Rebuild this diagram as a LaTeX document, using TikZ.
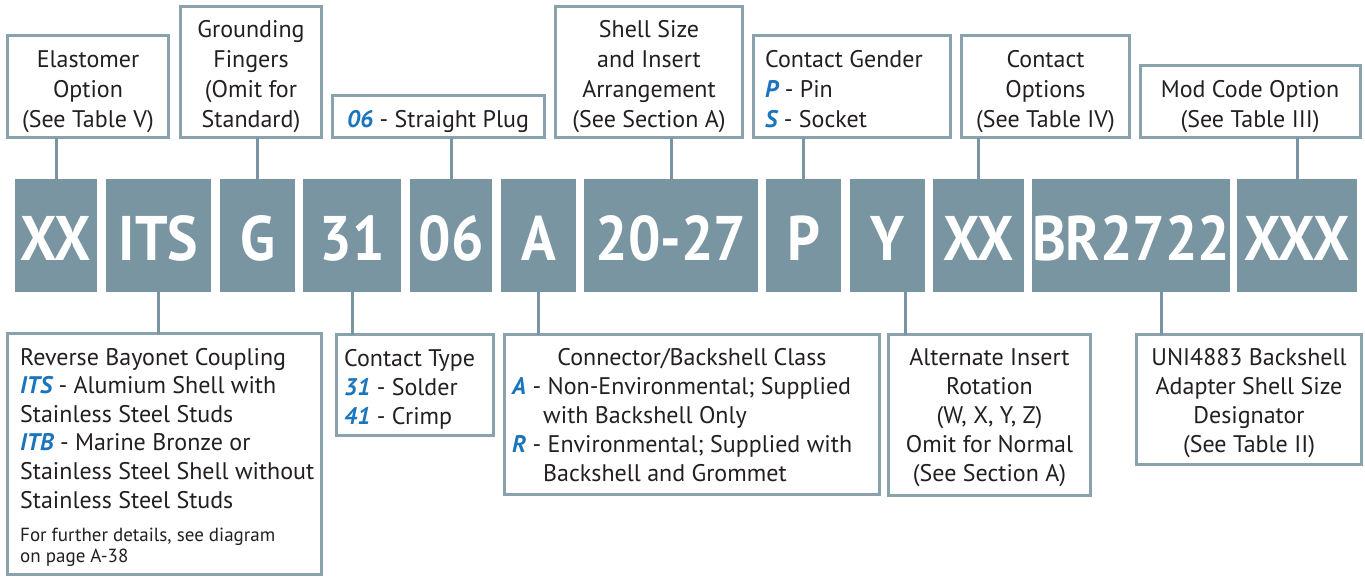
\documentclass[tikz,border=0pt]{standalone}
\usepackage{fontspec}
\setmainfont{PT Sans}
\newfontfamily\barfont{PT Sans}[FakeStretch=0.91]
\definecolor{barc}{HTML}{7A95A2}
\definecolor{edgec}{HTML}{8AA2AE}
\definecolor{bluec}{HTML}{1B75BC}
\definecolor{txtc}{HTML}{231F20}
\newcommand{\bl}[1]{\textcolor{bluec}{\bfseries\itshape #1}}
\tikzset{
  tbox/.style={draw=edgec, line width=3pt, fill=white, inner sep=0pt, outer sep=0pt, anchor=north west},
  bar/.style={fill=barc, inner sep=0pt, outer sep=0pt, anchor=north west, minimum height=113pt,
    text=white, font=\barfont\bfseries\fontsize{63}{63}\selectfont, text height=49pt, text depth=0pt},
  conn/.style={draw=barc, line width=3pt},
  txtT/.style={inner sep=0pt, text=txtc, font=\fontsize{24}{30}\selectfont},
  txtB/.style={inner sep=0pt, text=txtc, font=\fontsize{24}{29}\selectfont},
}
\begin{document}
\begin{tikzpicture}[x=1pt,y=-1pt]
\useasboundingbox (0,0) rectangle (1365,576);
\clip (0,0) rectangle (1365,576);
% bars
\node[bar, minimum width=82pt]  (bXX)  at (15,179)   {XX};
\node[bar, minimum width=105pt] (bITS) at (106,179)  {ITS};
\node[bar, minimum width=75pt]  (bG)   at (220,179)  {G};
\node[bar, minimum width=98pt]  (b31)  at (303,179)  {31};
\node[bar, minimum width=82pt]  (b06)  at (410,179)  {06};
\node[bar, minimum width=75pt]  (bA)   at (501,179)  {A};
\node[bar, minimum width=174pt] (b2027) at (584,179) {20-27};
\node[bar, minimum width=75pt]  (bP)   at (766,179)  {P};
\node[bar, minimum width=75pt]  (bY)   at (850,179)  {Y};
\node[bar, minimum width=91pt]  (bXX2) at (933,179)  {XX};
\node[bar, minimum width=196pt] (bBR)  at (1032,179) {BR2722};
\node[bar, minimum width=120pt] (bXXX) at (1237,179) {XXX};
% top boxes
\node[tbox, minimum width=161pt, minimum height=102pt] (elast) at (7.5,35.5) {};
\node[tbox, minimum width=141pt, minimum height=131pt] (grnd)  at (180.5,6.5) {};
\node[tbox, minimum width=212pt, minimum height=42pt]  (plug)  at (332.5,95.5) {};
\node[tbox, minimum width=187pt, minimum height=131pt] (shell) at (555.5,6.5) {};
\node[tbox, minimum width=197pt, minimum height=102pt] (gend)  at (753.5,35.5) {};
\node[tbox, minimum width=168pt, minimum height=102pt] (copt)  at (961.5,35.5) {};
\node[tbox, minimum width=220pt, minimum height=72pt]  (mod)   at (1140.5,65.5) {};
% bottom boxes
\node[tbox, minimum width=314pt, minimum height=241pt] (rev)   at (7.5,333.5) {};
\node[tbox, minimum width=157pt, minimum height=101pt] (ctype) at (336.5,334.5) {};
\node[tbox, minimum width=375pt, minimum height=160pt] (cls)   at (504.5,334.5) {};
\node[tbox, minimum width=202pt, minimum height=161pt] (alt)   at (888.5,334.5) {};
\node[tbox, minimum width=225pt, minimum height=130pt] (uni)   at (1136.5,334.5) {};
% connectors top
\draw[conn] (elast.south -| bXX.north) -- (bXX.north);
\draw[conn] (grnd.south -| bG.north) -- (bG.north);
\draw[conn] (plug.south -| b06.north) -- (b06.north);
\draw[conn] (shell.south -| b2027.north) -- (b2027.north);
\draw[conn] (gend.south -| bP.north) -- (bP.north);
\draw[conn] (copt.south -| bXX2.north) -- (bXX2.north);
\draw[conn] (mod.south -| bXXX.north) -- (bXXX.north);
% connectors bottom
\draw[conn] (bITS.south) -- (bITS.south |- rev.north);
\draw[conn] (b31.south) -- (b31.south |- ctype.north);
\draw[conn] (bA.south) -- (bA.south |- cls.north);
\coordinate (cY) at (905,292);
\draw[conn] (bY.south -| cY) -- (alt.north -| cY);
\coordinate (cBR) at (1161,292);
\draw[conn] (bBR.south -| cBR) -- (uni.north -| cBR);
% top texts
\node[txtT, anchor=base] (tElast) at (88,67) {\begin{tabular}[t]{@{}c@{}}Elastomer\\Option\\(See Table V)\end{tabular}};
\node[txtT, anchor=base] (tGrnd) at (251,37) {\begin{tabular}[t]{@{}c@{}}Grounding\\Fingers\\(Omit for\\Standard)\end{tabular}};
\node[txtT, anchor=base] (tPlug) at (438,127) {\bl{06} - Straight Plug};
\node[txtT, anchor=base] (tShell) at (649,37) {\begin{tabular}[t]{@{}c@{}}Shell Size\\and Insert\\Arrangement\\(See Section A)\end{tabular}};
\node[txtT, anchor=base west] (tGend) at (765,67) {\begin{tabular}[t]{@{}l@{}}Contact Gender\\\bl{P} - Pin\\\bl{S} - Socket\end{tabular}};
\node[txtT, anchor=base] (tCopt) at (1045.5,67) {\begin{tabular}[t]{@{}c@{}}Contact\\Options\\(See Table IV)\end{tabular}};
\node[txtT, anchor=base] (tMod) at (1250,97) {\begin{tabular}[t]{@{}c@{}}Mod Code Option\\(See Table III)\end{tabular}};
% bottom texts
\node[inner sep=0pt, text=txtc, font=\fontsize{24}{28.6}\selectfont, anchor=base west] (tRev) at (20,365) {\begin{tabular}[t]{@{}l@{}}Reverse Bayonet Coupling\\\bl{ITS} - Alumium Shell with\\Stainless Steel Studs\\\bl{ITB} - Marine Bronze or\\Stainless Steel Shell without\\Stainless Steel Studs\end{tabular}};
\node[inner sep=0pt, text=txtc, font=\fontsize{19}{21}\selectfont, anchor=base west] (tRevNote) at (20,541) {\begin{tabular}[t]{@{}l@{}}For further details, see diagram\\on page A-38\end{tabular}};
\node[txtB, anchor=base west] (tCtype) at (344,366) {\begin{tabular}[t]{@{}l@{}}Contact Type\\\bl{31} - Solder\\\bl{41} - Crimp\end{tabular}};
\node[txtB, anchor=base] (tClsH) at (692,365) {Connector/Backshell Class};
\node[txtB, anchor=base west] (tCls) at (512,394) {\begin{tabular}[t]{@{}l@{}}\bl{A} - Non-Environmental; Supplied\\\hspace{31pt}with Backshell Only\\\bl{R} - Environmental; Supplied with\\\hspace{31pt}Backshell and Grommet\end{tabular}};
\node[txtB, anchor=base] (tAlt) at (989.5,365) {\begin{tabular}[t]{@{}c@{}}Alternate Insert\\Rotation\\(W, X, Y, Z)\\Omit for Normal\\(See Section A)\end{tabular}};
\node[txtB, anchor=base] (tUni) at (1249,365) {\begin{tabular}[t]{@{}c@{}}UNI4883 Backshell\\Adapter Shell Size\\Designator\\(See Table II)\end{tabular}};
\end{tikzpicture}
\end{document}
